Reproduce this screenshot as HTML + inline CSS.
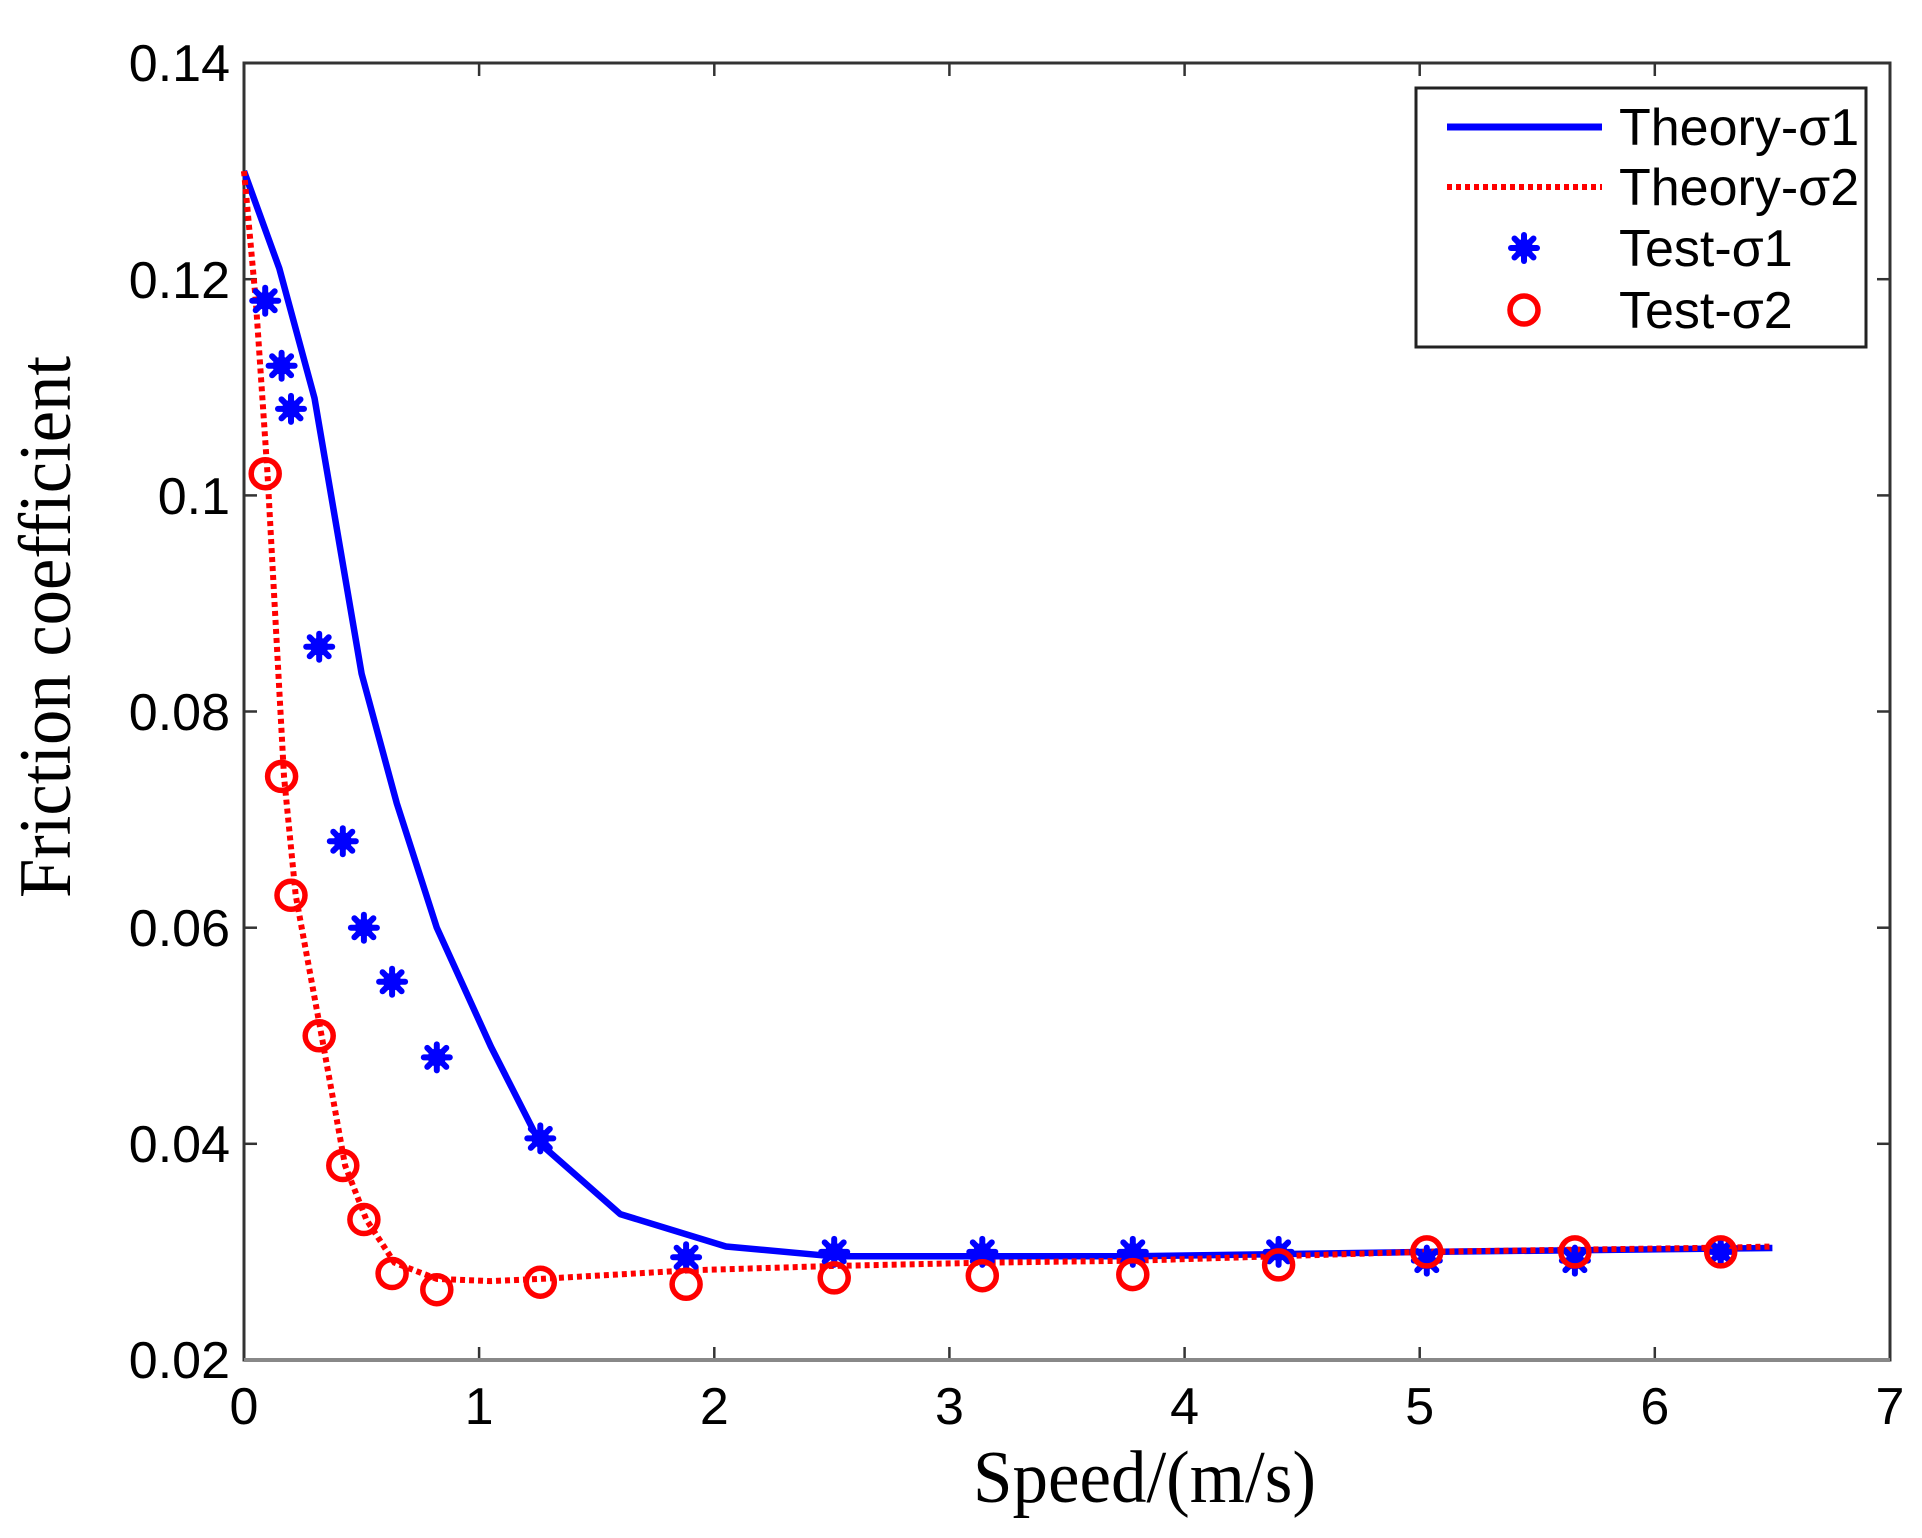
<!DOCTYPE html>
<html><head><meta charset="utf-8"><style>
html,body{margin:0;padding:0;background:#fff;}
svg{display:block;}
</style></head><body>
<svg width="1922" height="1538" viewBox="0 0 1922 1538" xmlns="http://www.w3.org/2000/svg">
<defs>
<g id="st" stroke="#0000ff" stroke-width="6" stroke-linecap="round">
<line x1="-13" y1="0" x2="13" y2="0"/><line x1="0" y1="-13" x2="0" y2="13"/>
<line x1="-9.5" y1="-9.5" x2="9.5" y2="9.5"/><line x1="-9.5" y1="9.5" x2="9.5" y2="-9.5"/>
<circle r="9" fill="#0000ff" stroke="none"/>
</g>
<circle id="ci" r="14" fill="none" stroke="#ff0000" stroke-width="5.5"/>
</defs>
<rect width="1922" height="1538" fill="#fff"/>
<g stroke="#333" stroke-width="2.5">
<line x1="479.1" y1="1360" x2="479.1" y2="1347"/><line x1="714.3" y1="1360" x2="714.3" y2="1347"/><line x1="949.4" y1="1360" x2="949.4" y2="1347"/><line x1="1184.6" y1="1360" x2="1184.6" y2="1347"/><line x1="1419.7" y1="1360" x2="1419.7" y2="1347"/><line x1="1654.8" y1="1360" x2="1654.8" y2="1347"/>
<line x1="479.1" y1="63" x2="479.1" y2="76"/><line x1="714.3" y1="63" x2="714.3" y2="76"/><line x1="949.4" y1="63" x2="949.4" y2="76"/><line x1="1184.6" y1="63" x2="1184.6" y2="76"/><line x1="1419.7" y1="63" x2="1419.7" y2="76"/><line x1="1654.8" y1="63" x2="1654.8" y2="76"/>
<line x1="244" y1="1143.8" x2="257" y2="1143.8"/><line x1="244" y1="927.7" x2="257" y2="927.7"/><line x1="244" y1="711.5" x2="257" y2="711.5"/><line x1="244" y1="495.4" x2="257" y2="495.4"/><line x1="244" y1="279.2" x2="257" y2="279.2"/>
<line x1="1890" y1="1143.8" x2="1877" y2="1143.8"/><line x1="1890" y1="927.7" x2="1877" y2="927.7"/><line x1="1890" y1="711.5" x2="1877" y2="711.5"/><line x1="1890" y1="495.4" x2="1877" y2="495.4"/><line x1="1890" y1="279.2" x2="1877" y2="279.2"/>
</g>
<rect x="244" y="63" width="1646" height="1297" fill="none" stroke="#333" stroke-width="3"/>
<line x1="244" y1="1360" x2="1890" y2="1360" stroke="#888" stroke-width="4"/>
<polyline fill="none" stroke="#0000ff" stroke-width="6.5" stroke-linejoin="round" points="244,171.1 279.3,268.4 314.5,398.1 361.6,673.7 396.8,803.4 436.8,927.7 490.9,1046.6 540.3,1143.8 620.2,1214.1 726,1246.5 831.9,1256.2 1137.5,1256.2 1419.7,1252 1772.4,1248"/>
<polyline fill="none" stroke="#ff0000" stroke-width="6" stroke-dasharray="5 4" points="244,171.1 255.8,300.8 267.5,473.7 284,776.4 295.7,895.3 321.6,1035.8 345.1,1165.5 366.3,1219.5 394.5,1262.7 436.8,1278.9 490.9,1281.1 540.3,1278.9 690.8,1270.3 831.9,1266 984.7,1262.7 1137.5,1260.6 1278.6,1256.2 1419.7,1251.9 1572.5,1249.7 1725.4,1247.6 1772.4,1246.5"/>
<g>
<use href="#st" x="265.2" y="300.8"/><use href="#st" x="281.6" y="365.7"/><use href="#st" x="291" y="408.9"/><use href="#st" x="319.2" y="646.7"/><use href="#st" x="342.8" y="841.2"/><use href="#st" x="363.9" y="927.7"/><use href="#st" x="392.1" y="981.7"/><use href="#st" x="436.8" y="1057.4"/><use href="#st" x="540.3" y="1138.4"/><use href="#st" x="686.1" y="1257.3"/><use href="#st" x="834.2" y="1251.9"/><use href="#st" x="982.3" y="1251.9"/><use href="#st" x="1132.8" y="1251.9"/><use href="#st" x="1278.6" y="1251.9"/><use href="#st" x="1426.8" y="1260.6"/><use href="#st" x="1574.9" y="1260.6"/><use href="#st" x="1720.7" y="1251.9"/>
</g>
<g>
<use href="#ci" x="265.2" y="473.7"/><use href="#ci" x="281.6" y="776.4"/><use href="#ci" x="291" y="895.3"/><use href="#ci" x="319.2" y="1035.8"/><use href="#ci" x="342.8" y="1165.5"/><use href="#ci" x="363.9" y="1219.5"/><use href="#ci" x="392.1" y="1273.5"/><use href="#ci" x="436.8" y="1289.7"/><use href="#ci" x="540.3" y="1282.2"/><use href="#ci" x="686.1" y="1284.3"/><use href="#ci" x="834.2" y="1277.9"/><use href="#ci" x="982.3" y="1275.7"/><use href="#ci" x="1132.8" y="1274.6"/><use href="#ci" x="1278.6" y="1264.9"/><use href="#ci" x="1426.8" y="1251.9"/><use href="#ci" x="1574.9" y="1251.9"/><use href="#ci" x="1720.7" y="1251.9"/>
</g>
<g font-family="Liberation Sans, sans-serif" font-size="52" fill="#000" text-anchor="end">
<text x="230" y="1378">0.02</text><text x="230" y="1162">0.04</text><text x="230" y="946">0.06</text><text x="230" y="730">0.08</text><text x="230" y="514">0.1</text><text x="230" y="298">0.12</text><text x="230" y="81">0.14</text>
</g>
<g font-family="Liberation Sans, sans-serif" font-size="52" fill="#000" text-anchor="middle">
<text x="244" y="1424">0</text><text x="479.1" y="1424">1</text><text x="714.3" y="1424">2</text><text x="949.4" y="1424">3</text><text x="1184.6" y="1424">4</text><text x="1419.7" y="1424">5</text><text x="1654.8" y="1424">6</text><text x="1890" y="1424">7</text>
</g>
<text x="973" y="1502" font-family="Liberation Serif, serif" font-size="74" textLength="343" lengthAdjust="spacingAndGlyphs">Speed/(m/s)</text>
<text transform="translate(70,898) rotate(-90)" x="0" y="0" font-family="Liberation Serif, serif" font-size="74" textLength="542" lengthAdjust="spacingAndGlyphs">Friction coefficient</text>
<rect x="1416" y="88" width="450" height="259" fill="#fff" stroke="#222" stroke-width="3"/>
<line x1="1447" y1="127" x2="1602" y2="127" stroke="#0000ff" stroke-width="7"/>
<line x1="1447" y1="187" x2="1602" y2="187" stroke="#ff0000" stroke-width="6" stroke-dasharray="5 4"/>
<use href="#st" x="1524" y="248"/>
<use href="#ci" x="1524" y="310"/>
<g font-family="Liberation Sans, sans-serif" font-size="52" fill="#000">
<text x="1619" y="145">Theory-σ1</text><text x="1619" y="205">Theory-σ2</text><text x="1619" y="266">Test-σ1</text><text x="1619" y="328">Test-σ2</text>
</g>
</svg>
</body></html>
